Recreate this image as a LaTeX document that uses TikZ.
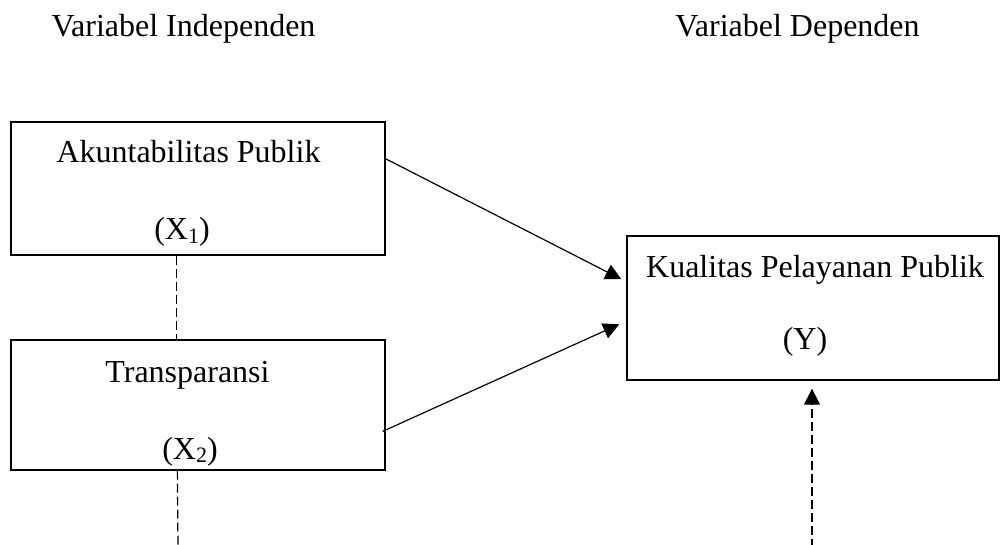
\documentclass[tikz,border=0pt]{standalone}
\usepackage{fontspec}
\setmainfont{Liberation Serif}
\usetikzlibrary{arrows.meta}
\newcommand{\subnum}[1]{\raisebox{-0.12em}{\fontsize{11}{11}\selectfont #1}}
\begin{document}
\begin{tikzpicture}[x=0.5pt,y=-0.5pt,
  box/.style={draw, line width=0.65pt, inner sep=0pt, rectangle},
  lbl/.style={anchor=base, inner sep=0pt, font=\fontsize{16}{19}\selectfont},
  conn/.style={line width=0.6pt},
  dashline/.style={line width=0.6pt, dash pattern=on 4.5pt off 2pt},
  tip/.style={-{Triangle[length=8pt,width=8pt]}}]
\useasboundingbox (0,0) rectangle (1001,545);
% headers
\node[lbl] (h1) at (183.5,37) {Variabel Independen};
\node[lbl] (h2) at (797.5,37) {Variabel Dependen};
% boxes
\node[box, minimum width=187pt, minimum height=66.5pt] (x1) at (198,188.5) {};
\node[box, minimum width=187pt, minimum height=65pt] (x2) at (198,405) {};
\node[box, minimum width=186pt, minimum height=72pt] (y) at (813,308) {};
% texts
\node[lbl] (t1) at (188.5,163) {Akuntabilitas Publik};
\node[lbl] (t1b) at (182,240) {(X\subnum{1})};
\node[lbl] (t2) at (187.5,382) {Transparansi};
\node[lbl] (t2b) at (190,459) {(X\subnum{2})};
\node[lbl] (t3) at (815,278) {Kualitas Pelayanan Publik};
\node[lbl] (t3b) at (805,350) {(Y)};
% free ends
\coordinate (e1) at (178,548);
\coordinate (e2) at (812,548);
% connectors
\draw[conn, tip, shorten >=2.8pt] (x1.9.3) -- (y.172.2);
\draw[conn, tip, shorten >=3.9pt] ([xshift=-1.5pt]x2.-8.9) -- (y.-176.4);
\draw[dashline] ([xshift=83pt]x1.south west) -- ([xshift=83pt]x2.north west);
\draw[dashline] ([xshift=83.5pt]x2.south west) -- (e1);
\draw[dashline, tip, shorten >=4pt] (e2) -- (y.south -| e2);
\end{tikzpicture}
\end{document}
